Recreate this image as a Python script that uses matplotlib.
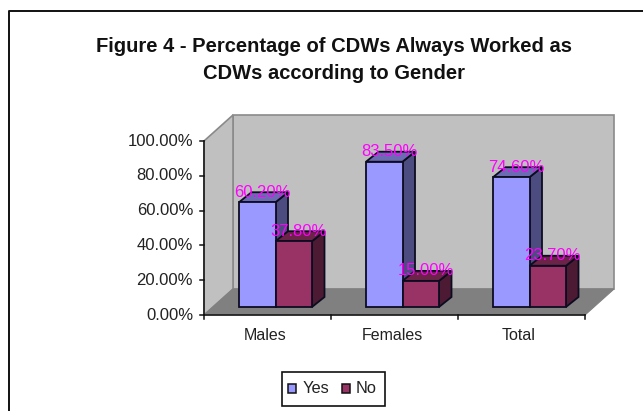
import matplotlib
matplotlib.use("Agg")
import matplotlib.pyplot as plt
from matplotlib.patches import Polygon, Rectangle

categories = ["Males", "Females", "Total"]
yes_values = [60.2, 83.5, 74.6]
no_values = [37.8, 15.0, 23.7]
yes_labels = ["60.20%", "83.50%", "74.60%"]
no_labels = ["37.80%", "15.00%", "23.70%"]
y_ticks = [0, 20, 40, 60, 80, 100]
y_tick_labels = ["0.00%", "20.00%", "40.00%", "60.00%", "80.00%", "100.00%"]
title = "Figure 4 - Percentage of CDWs Always Worked as\nCDWs according to Gender"

W, H = 643, 411
X0, Y0 = 204, 315          # pixel position of the axes origin
PX_X, PX_Y = 127.0, 1.74   # pixels per category, pixels per percent

plt.rcParams["font.family"] = ["Liberation Sans", "DejaVu Sans"]
fig = plt.figure(figsize=(W / 100, H / 100), dpi=100)
ax = fig.add_axes([0, 0, 1, 1])
ax.set_xlim(-X0 / PX_X, (W - X0) / PX_X)
ax.set_ylim(-(H - Y0) / PX_Y, Y0 / PX_Y)
ax.axis("off")

def dx(px):
    return px / PX_X

def dy(px):
    return px / PX_Y

BLACK = "#111111"
DEPTH_X, DEPTH_Y = dx(29), dy(26)
n = len(categories)

# frame of the picture
ax.plot([-X0 / PX_X + dx(9), -X0 / PX_X + dx(9), (W - X0) / PX_X],
        [-(H - Y0) / PX_Y, Y0 / PX_Y - dy(11), Y0 / PX_Y - dy(11)],
        color=BLACK, lw=1.4, zorder=1, solid_capstyle="butt")

# walls and floor
ax.add_patch(Polygon([(DEPTH_X, DEPTH_Y), (n + DEPTH_X, DEPTH_Y),
                      (n + DEPTH_X, 100 + DEPTH_Y), (DEPTH_X, 100 + DEPTH_Y)],
                     fc="#c0c0c0", ec="#8a8a8a", lw=1.2, zorder=2))
ax.add_patch(Polygon([(0, 0), (DEPTH_X, DEPTH_Y), (DEPTH_X, 100 + DEPTH_Y), (0, 100)],
                     fc="#c0c0c0", ec="#8a8a8a", lw=1.2, zorder=2))
ax.add_patch(Polygon([(0, 0), (n, 0), (n + DEPTH_X, DEPTH_Y), (DEPTH_X, DEPTH_Y)],
                     fc="#808080", ec="#808080", lw=0.8, zorder=2))

# axes lines and ticks
ax.plot([0, 0], [0, 100], color=BLACK, lw=1.1, zorder=3)
ax.plot([0, n], [0, 0], color=BLACK, lw=1.1, zorder=3)
for t, lab in zip(y_ticks, y_tick_labels):
    ax.plot([-dx(4), 0], [t, t], color=BLACK, lw=1.1, zorder=3)
    ax.text(-dx(11), t, lab, ha="right", va="center", fontsize=12, color="#222222")
for i in range(n + 1):
    ax.plot([i, i], [0, -dy(4)], color=BLACK, lw=1.1, zorder=3)
for i, c in enumerate(categories):
    ax.text(i + 0.48, -dy(21), c, ha="center", va="center", fontsize=11.5, color="#222222")

# bars
def bar(x, w, h, front, top, side, z):
    bx, by = dx(9), dy(8)
    ox, oy = dx(12.5), dy(10)
    x0, y0 = x + bx, by
    kw = dict(ec="#0c0c20", lw=1.3, joinstyle="miter", zorder=z)
    ax.add_patch(Polygon([(x0 + w, y0), (x0 + w + ox, y0 + oy),
                          (x0 + w + ox, y0 + h + oy), (x0 + w, y0 + h)], fc=side, **kw))
    ax.add_patch(Polygon([(x0, y0 + h), (x0 + w, y0 + h),
                          (x0 + w + ox, y0 + h + oy), (x0 + ox, y0 + h + oy)], fc=top, **kw))
    ax.add_patch(Rectangle((x0, y0), w, h, fc=front, **kw))

BAR_W = dx(36.5)
OFFSET = dx(26)
for i in range(n):
    x = i + OFFSET
    bar(x + BAR_W, BAR_W, no_values[i], "#993366", "#6b2347", "#4c1a33", 5)
    bar(x, BAR_W, yes_values[i], "#9999ff", "#6b6bb3", "#4c4c80", 4)

# data labels
for i in range(n):
    x = i + OFFSET
    ax.text(x + dx(32), yes_values[i] + dy(18), yes_labels[i], ha="center", va="center",
            fontsize=12, color="#ff00ff", zorder=8)
    ax.text(x + BAR_W + dx(32), no_values[i] + dy(18), no_labels[i], ha="center", va="center",
            fontsize=12, color="#ff00ff", zorder=8)

# title
ax.text(dx(334 - X0), dy(Y0 - 60), title, ha="center", va="center", fontsize=14.5,
        fontweight="bold", color=BLACK, linespacing=1.5)

# legend
ax.add_patch(Rectangle((dx(282 - X0), dy(Y0 - 406)), dx(103), dy(34), fc="white", ec=BLACK, lw=1.2, zorder=3))
ax.add_patch(Rectangle((dx(288 - X0), dy(Y0 - 393)), dx(8), dy(9), fc="#9999ff", ec=BLACK, lw=1.1, zorder=4))
ax.text(dx(303 - X0), dy(Y0 - 388), "Yes", ha="left", va="center", fontsize=11.8, color="#222222", zorder=4)
ax.add_patch(Rectangle((dx(342 - X0), dy(Y0 - 393)), dx(8), dy(9), fc="#993366", ec=BLACK, lw=1.1, zorder=4))
ax.text(dx(356 - X0), dy(Y0 - 388), "No", ha="left", va="center", fontsize=11.8, color="#222222", zorder=4)

fig.savefig("out.png", dpi=100, facecolor="white")
